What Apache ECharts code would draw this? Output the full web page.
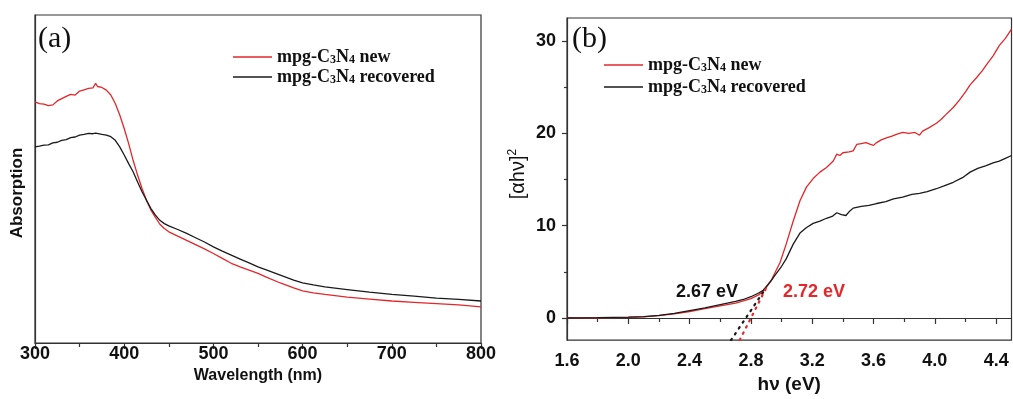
<!DOCTYPE html>
<html>
<head>
<meta charset="utf-8">
<script src="https://cdn.jsdelivr.net/npm/echarts@6/dist/echarts.min.js"></script>
<style>html,body{margin:0;padding:0;background:#fff;}#c{width:1013px;height:399px;}</style>
</head>
<body>
<div id="c"></div>
<script>
// ---------- Panel (a): absorption spectra ----------
const wavelength = [300,305,310,315,320,325,330,335,340,345,350,355,360,365,368,370,375,380,385,390,395,400,405,410,415,420,425,430,435,440,445,450,460,470,480,490,500,510,520,530,540,550,560,575,590,600,612,625,650,675,700,725,750,775,800];
const absNew = [0.735,0.730,0.728,0.724,0.726,0.738,0.745,0.752,0.758,0.756,0.768,0.772,0.776,0.778,0.792,0.782,0.779,0.771,0.756,0.730,0.695,0.654,0.608,0.557,0.512,0.471,0.435,0.405,0.383,0.362,0.349,0.339,0.326,0.313,0.300,0.287,0.273,0.258,0.243,0.232,0.222,0.212,0.200,0.183,0.168,0.159,0.153,0.148,0.140,0.134,0.128,0.124,0.120,0.116,0.110];
const absRec = [0.598,0.600,0.603,0.604,0.610,0.612,0.618,0.620,0.626,0.628,0.634,0.636,0.639,0.638,0.640,0.640,0.636,0.634,0.629,0.618,0.598,0.573,0.547,0.522,0.491,0.461,0.435,0.410,0.390,0.374,0.364,0.357,0.346,0.334,0.321,0.308,0.293,0.280,0.268,0.256,0.244,0.232,0.222,0.207,0.192,0.183,0.177,0.171,0.163,0.155,0.148,0.143,0.137,0.133,0.128];

// ---------- Panel (b): Tauc plot ----------
const evNew = [1.6,1.8,2.0,2.1,2.2,2.3,2.4,2.5,2.6,2.7,2.75,2.8,2.85,2.88,2.9,2.93,2.96,2.99,3.03,3.076,3.12,3.163,3.206,3.25,3.293,3.337,3.36,3.38,3.40,3.44,3.467,3.49,3.52,3.55,3.58,3.60,3.62,3.65,3.684,3.72,3.749,3.79,3.83,3.87,3.9,3.92,3.96,4.01,4.04,4.07,4.12,4.16,4.2,4.23,4.27,4.31,4.335,4.38,4.42,4.46,4.5];
const taucNew = [0,0.02,0.06,0.12,0.25,0.45,0.7,1.0,1.3,1.6,1.85,2.1,2.5,2.9,3.3,4.0,5.0,6.0,8.0,10.5,12.7,14.2,15.1,15.8,16.3,17.0,17.75,17.6,17.9,18.0,18.1,18.8,18.9,19.0,18.8,18.7,19.0,19.3,19.5,19.7,19.9,20.1,20.0,20.1,19.8,20.25,20.6,21.1,21.5,22.0,22.8,23.6,24.5,25.25,26.0,26.8,27.4,28.4,29.5,30.3,31.3];
const evRec = [1.6,1.8,2.0,2.1,2.2,2.3,2.4,2.5,2.6,2.7,2.75,2.8,2.85,2.88,2.9,2.93,2.96,3.0,3.03,3.076,3.12,3.163,3.206,3.25,3.293,3.33,3.36,3.39,3.42,3.44,3.467,3.52,3.57,3.62,3.68,3.73,3.79,3.85,3.9,3.95,4.01,4.06,4.12,4.18,4.23,4.28,4.335,4.38,4.42,4.46,4.5];
const taucRec = [0,0.03,0.08,0.15,0.28,0.5,0.8,1.1,1.45,1.8,2.0,2.3,2.7,3.0,3.4,4.0,4.7,5.6,6.4,8.0,9.2,9.8,10.25,10.5,10.8,11.0,11.4,11.2,11.1,11.5,11.9,12.1,12.2,12.4,12.6,12.9,13.1,13.4,13.5,13.7,14.0,14.3,14.7,15.2,15.8,16.2,16.5,16.8,17.0,17.3,17.6];
const tangentRec = [[2.67,-2.4],[2.88,2.8]];
const tangentNew = [[2.727,-2.4],[2.91,3.6]];

const xLabelsB = [1.6,2.0,2.4,2.8,3.2,3.6,4.0,4.4];
const xMinorB = [1.8,2.2,2.6,3.0,3.4,3.8,4.2];
const yLabelsB = [0,10,20,30];
const yMinorB = [5,15,25];
const nameNew = 'mpg-C3N4 new';
const nameRec = 'mpg-C3N4 recovered';
const bandGapRec = '2.67 eV';
const bandGapNew = '2.72 eV';

const RED = '#e5262a';
const BLACK = '#1a1a1a';
const AX = '#333';
const SANS = 'Liberation Sans, Arial, sans-serif';
const SERIF = 'Liberation Serif, Times New Roman, serif';

const pairs = (xs, ys) => xs.map((x, i) => [x, ys[i]]);

const legendRich = {
  m: {fontFamily: SERIF, fontWeight: 'bold', fontSize: 18, color: '#111'},
  s: {fontFamily: SERIF, fontWeight: 'bold', fontSize: 12, color: '#111', padding: [6,0,0,0]}
};
const legendFmt = n => n === nameNew ? '{m|mpg-C}{s|3}{m|N}{s|4}{m| new}' : '{m|mpg-C}{s|3}{m|N}{s|4}{m| recovered}';
const LINE_ICON = 'path://M0,0H40V1.4H0Z';

const chart = echarts.init(document.getElementById('c'), null, {renderer: 'canvas'});
const option = {
  backgroundColor: '#fff',
  animation: false,
  grid: [
    {left: 35, top: 15, width: 446, height: 328, show: true, borderColor: AX, borderWidth: 1.2, backgroundColor: 'transparent'},
    {left: 567, top: 18, width: 444.5, height: 326.5, show: true, borderColor: AX, borderWidth: 1.2, backgroundColor: 'transparent'}
  ],
  legend: [
    {orient: 'vertical', left: 228, top: 43, icon: LINE_ICON, itemWidth: 39, itemHeight: 1.4, itemGap: 2, data: [nameNew, nameRec],
     formatter: legendFmt, textStyle: {rich: legendRich}, selectedMode: false},
    {orient: 'vertical', left: 599, top: 51, icon: LINE_ICON, itemWidth: 39, itemHeight: 1.4, itemGap: 4, data: [nameNew, nameRec],
     formatter: legendFmt, textStyle: {rich: legendRich}, selectedMode: false}
  ],
  xAxis: [
    {gridIndex: 0, type: 'value', position: 'bottom', min: 300, max: 800, interval: 100,
     axisLine: {lineStyle: {color: AX, width: 1.2}},
     axisTick: {show: true, length: 6, lineStyle: {color: AX, width: 1.2}},
     minorTick: {show: true, splitNumber: 2, length: 4, lineStyle: {color: AX, width: 1.2}},
     splitLine: {show: false},
     axisLabel: {margin: 2, fontFamily: SANS, fontWeight: 'bold', fontSize: 18, color: '#111'},
     name: 'Wavelength (nm)', nameLocation: 'middle', nameGap: 16,
     nameTextStyle: {fontFamily: SANS, fontWeight: 'bold', fontSize: 16, color: '#111'}},
    {gridIndex: 1, type: 'value', position: 'bottom', min: 1.6, max: 4.5, interval: 0.4,
     axisLine: {lineStyle: {color: AX, width: 1.2}},
     axisTick: {show: true, length: 6, customValues: xLabelsB, lineStyle: {color: AX, width: 1.2}},
     splitLine: {show: false},
     axisLabel: {margin: 12, customValues: xLabelsB, formatter: v => v.toFixed(1), fontFamily: SANS, fontWeight: 'bold', fontSize: 18, color: '#111'},
     name: 'h\u03bd (eV)', nameLocation: 'middle', nameGap: 31,
     nameTextStyle: {fontFamily: SANS, fontWeight: 'bold', fontSize: 19, color: '#111'}},
    {gridIndex: 1, type: 'value', position: 'bottom', offset: 0, min: 1.6, max: 4.5, interval: 0.4,
     axisLine: {show: false},
     axisTick: {show: true, length: 4, customValues: xMinorB, lineStyle: {color: AX, width: 1.2}},
     axisLabel: {show: false}, splitLine: {show: false}}
  ],
  yAxis: [
    {gridIndex: 0, type: 'value', position: 'left', min: 0, max: 1,
     axisLine: {show: true, lineStyle: {color: AX, width: 1.2}},
     axisTick: {show: false}, axisLabel: {show: false}, splitLine: {show: false},
     name: 'Absorption', nameLocation: 'middle', nameGap: 9,
     nameTextStyle: {fontFamily: SANS, fontWeight: 'bold', fontSize: 17, color: '#111', padding: [0, 28, 0, 0]}},
    {gridIndex: 1, type: 'value', position: 'left', min: -2.4, max: 32.5,
     axisLine: {show: true, lineStyle: {color: AX, width: 1.2}},
     axisTick: {show: true, length: 5, customValues: yLabelsB, lineStyle: {color: AX, width: 1.2}},
     axisLabel: {margin: 11, customValues: yLabelsB, fontFamily: SANS, fontWeight: 'bold', fontSize: 18, color: '#111'},
     splitLine: {show: false},
     name: '{n|[\u03b1h\u03bd]}{p|2}', nameLocation: 'middle', nameGap: 38,
     nameTextStyle: {padding: [0, 0, 0, 10], rich: {
       n: {fontFamily: SANS, fontSize: 20, color: '#111'},
       p: {fontFamily: SANS, fontSize: 12, color: '#111', padding: [0,0,10,0]}}}},
    {gridIndex: 1, type: 'value', position: 'left', offset: 0, min: -2.4, max: 32.5,
     axisLine: {show: false},
     axisTick: {show: true, length: 3, customValues: yMinorB, lineStyle: {color: AX, width: 1.2}},
     axisLabel: {show: false}, splitLine: {show: false}}
  ],
  series: [
    {name: nameNew, type: 'line', xAxisIndex: 0, yAxisIndex: 0, symbol: 'none', data: pairs(wavelength, absNew),
     lineStyle: {color: RED, width: 1.3}, itemStyle: {color: RED}},
    {name: nameRec, type: 'line', xAxisIndex: 0, yAxisIndex: 0, symbol: 'none', data: pairs(wavelength, absRec),
     lineStyle: {color: BLACK, width: 1.3}, itemStyle: {color: BLACK}},
    {name: nameNew, type: 'line', xAxisIndex: 1, yAxisIndex: 1, symbol: 'none', data: pairs(evNew, taucNew),
     lineStyle: {color: RED, width: 1.3}, itemStyle: {color: RED}},
    {name: nameRec, type: 'line', xAxisIndex: 1, yAxisIndex: 1, symbol: 'none', data: pairs(evRec, taucRec),
     lineStyle: {color: BLACK, width: 1.3}, itemStyle: {color: BLACK}},
    {name: 'tangent recovered', type: 'line', xAxisIndex: 1, yAxisIndex: 1, symbol: 'none', data: tangentRec,
     lineStyle: {color: BLACK, width: 2.2, type: [1.5, 5.5], cap: 'round'}},
    {name: 'tangent new', type: 'line', xAxisIndex: 1, yAxisIndex: 1, symbol: 'none', data: tangentNew,
     lineStyle: {color: RED, width: 2.2, type: [1.5, 5.5], cap: 'round'}}
  ],
  graphic: [
    {type: 'text', left: 38, top: 24, style: {text: '(a)', font: '30px ' + SERIF, fill: '#111'}},
    {type: 'text', left: 572, top: 24, style: {text: '(b)', font: '30px ' + SERIF, fill: '#111'}},
    {type: 'text', left: 676, top: 283, style: {text: bandGapRec, font: 'bold 18px ' + SANS, fill: '#111'}},
    {type: 'text', left: 783, top: 283, style: {text: bandGapNew, font: 'bold 18px ' + SANS, fill: RED}}
  ]
};
chart.setOption(option);
</script>
</body>
</html>
